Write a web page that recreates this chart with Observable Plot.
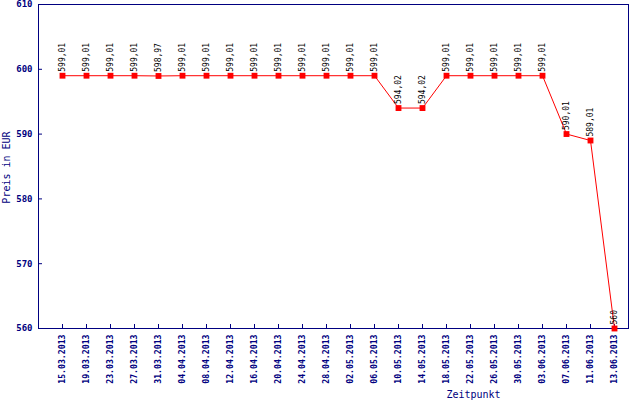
<!DOCTYPE html>
<html>
<head>
<meta charset="utf-8">
<script src="https://cdn.jsdelivr.net/npm/d3@7"></script>
<script src="https://cdn.jsdelivr.net/npm/@observablehq/plot@0.6"></script>
<style>
  html, body { margin: 0; padding: 0; background: #fff; }
  #chart svg { display: block; }
</style>
</head>
<body>
<div id="chart"></div>
<script>
const dates = ["15.03.2013","19.03.2013","23.03.2013","27.03.2013","31.03.2013","04.04.2013","08.04.2013","12.04.2013","16.04.2013","20.04.2013","24.04.2013","28.04.2013","02.05.2013","06.05.2013","10.05.2013","14.05.2013","18.05.2013","22.05.2013","26.05.2013","30.05.2013","03.06.2013","07.06.2013","11.06.2013","13.06.2013"];
const prices = [599.01,599.01,599.01,599.01,598.97,599.01,599.01,599.01,599.01,599.01,599.01,599.01,599.01,599.01,594.02,594.02,599.01,599.01,599.01,599.01,599.01,590.01,589.01,560];
const yTicks = [560,570,580,590,600,610];
const xTitle = "Zeitpunkt";
const yTitle = "Preis in EUR";

const data = dates.map((d, i) => ({date: d, price: prices[i], label: String(prices[i]).replace(".", ",")}));
const navy = "#000080";
const font = "'DejaVu Sans Mono', 'Liberation Mono', monospace";

const chart = Plot.plot({
  width: 640,
  height: 400,
  marginTop: 4,
  marginLeft: 38,
  marginRight: 12,
  marginBottom: 72,
  style: {fontFamily: font, background: "#fff"},
  x: {type: "point", domain: dates, padding: 0, insetLeft: 22, insetRight: 13},
  y: {domain: [560, 610]},
  marks: [
    Plot.frame({stroke: navy}),
    Plot.axisY({ticks: yTicks, tickSize: -4, tickPadding: 10, stroke: navy, fill: navy, fontSize: 9, fontWeight: "bold", label: null, tickFormat: d => d}),
    Plot.axisX({tickSize: -4, tickPadding: 10, tickRotate: -90, stroke: navy, fill: navy, fontSize: 8.2, fontWeight: "bold", label: null}),
    Plot.text([yTitle], {frameAnchor: "left", rotate: -90, dx: -32, dy: 1, textAnchor: "middle", fill: navy, fontSize: 10, lineAnchor: "middle"}),
    Plot.text([xTitle], {frameAnchor: "bottom", dx: 140, dy: 66, textAnchor: "middle", fill: navy, fontSize: 10, lineAnchor: "middle"}),
    Plot.line(data, {x: "date", y: "price", stroke: "red", strokeWidth: 1}),
    Plot.dot(data, {x: "date", y: "price", symbol: "square", r: 3.3, fill: "red", stroke: "none"}),
    Plot.text(data, {x: "date", y: "price", text: "label", rotate: -90, textAnchor: "start", lineAnchor: "middle", dy: -4, fill: "black", fontSize: 8})
  ]
});
document.getElementById("chart").appendChild(chart);
</script>
</body>
</html>
